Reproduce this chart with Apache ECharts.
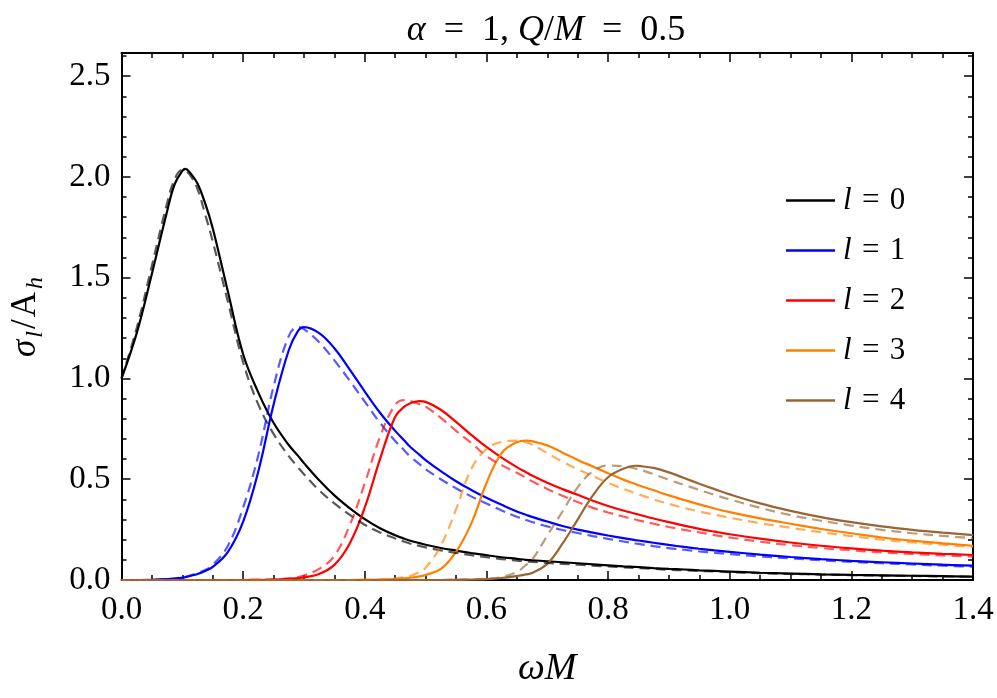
<!DOCTYPE html>
<html>
<head>
<meta charset="utf-8">
<script src="https://cdn.jsdelivr.net/npm/echarts@6/dist/echarts.min.js"></script>
<style>
  html, body { margin: 0; padding: 0; background: #fff; }
  #chart { width: 997px; height: 698px; }
</style>
</head>
<body>
<div id="chart"></div>
<script>
// omega*M sample points (shared by every curve), with extra points at the peaks
const omegaM = [0, 0.025, 0.05, 0.075,
  0.0875, 0.1, 0.105, 0.1125, 0.125, 0.1375, 0.15,
  0.175, 0.2, 0.225, 0.25, 0.275,
  0.29, 0.3, 0.325, 0.35, 0.375, 0.4, 0.425, 0.45,
  0.465, 0.475, 0.49, 0.5,
  0.525, 0.55, 0.575, 0.6, 0.625, 0.65,
  0.665, 0.675, 0.7, 0.725, 0.75, 0.775, 0.8, 0.825,
  0.845, 0.85, 0.875, 0.9, 0.925, 0.95, 0.975, 1.0,
  1.05, 1.1, 1.15, 1.2, 1.25, 1.3, 1.35, 1.4]

// sigma_l / A_h, solid curves
const l0 = [1.00, 1.225, 1.52, 1.83,
  1.965, 2.03, 2.04, 2.022, 1.967, 1.87, 1.745,
  1.43, 1.12, 0.93, 0.78, 0.67,
  0.617, 0.58, 0.495, 0.42, 0.357, 0.302, 0.257, 0.222,
  0.205, 0.195, 0.183, 0.175,
  0.159, 0.146, 0.134, 0.123, 0.113, 0.105,
  0.1, 0.098, 0.093, 0.088, 0.083, 0.078, 0.073, 0.068,
  0.065, 0.064, 0.059, 0.055, 0.052, 0.048, 0.045, 0.042,
  0.036, 0.032, 0.028, 0.025, 0.023, 0.021, 0.019, 0.017]
const l1 = [0, 0, 0.001, 0.004,
  0.007, 0.012, 0.014, 0.02, 0.03, 0.045, 0.065,
  0.14, 0.29, 0.54, 0.87, 1.14,
  1.235, 1.255, 1.225, 1.15, 1.045, 0.935, 0.83, 0.74,
  0.692, 0.66, 0.621, 0.595,
  0.54, 0.49, 0.447, 0.408, 0.373, 0.34,
  0.324, 0.313, 0.29, 0.268, 0.25, 0.235, 0.221, 0.208,
  0.198, 0.196, 0.185, 0.174, 0.164, 0.155, 0.147, 0.14,
  0.126, 0.114, 0.104, 0.095, 0.088, 0.082, 0.076, 0.071]
const l2 = [0, 0, 0, 0,
  0, 0, 0, 0, 0, 0, 0,
  0, 0, 0.001, 0.002, 0.006,
  0.01, 0.013, 0.03, 0.075, 0.18, 0.36, 0.6, 0.81,
  0.86, 0.877, 0.888, 0.884,
  0.845, 0.785, 0.72, 0.66, 0.607, 0.56,
  0.535, 0.518, 0.482, 0.451, 0.423, 0.393, 0.367, 0.345,
  0.329, 0.325, 0.305, 0.287, 0.27, 0.254, 0.24, 0.227,
  0.205, 0.186, 0.17, 0.157, 0.146, 0.137, 0.13, 0.124]
const l3 = [0, 0, 0, 0,
  0, 0, 0, 0, 0, 0, 0,
  0, 0, 0, 0, 0,
  0, 0, 0, 0, 0, 0.001, 0.002, 0.005,
  0.008, 0.011, 0.018, 0.025,
  0.055, 0.14, 0.28, 0.48, 0.63, 0.684,
  0.692, 0.689, 0.668, 0.632, 0.596, 0.563, 0.53, 0.498,
  0.476, 0.47, 0.445, 0.42, 0.397, 0.375, 0.355, 0.337,
  0.306, 0.279, 0.253, 0.232, 0.211, 0.195, 0.182, 0.17]
const l4 = [0, 0, 0, 0,
  0, 0, 0, 0, 0, 0, 0,
  0, 0, 0, 0, 0,
  0, 0, 0, 0, 0, 0, 0, 0,
  0, 0, 0, 0,
  0, 0.001, 0.002, 0.004, 0.01, 0.02,
  0.028, 0.035, 0.08, 0.18, 0.3, 0.42, 0.51, 0.552,
  0.567, 0.566, 0.556, 0.534, 0.506, 0.478, 0.451, 0.425,
  0.38, 0.343, 0.312, 0.287, 0.266, 0.249, 0.235, 0.223]

// dashed companions
const l0Dashed = [1.00, 1.25, 1.56, 1.87,
  1.99, 2.035, 2.03, 2.01, 1.94, 1.815, 1.68,
  1.38, 1.08, 0.87, 0.725, 0.615,
  0.56, 0.525, 0.445, 0.38, 0.324, 0.274, 0.236, 0.206,
  0.19, 0.18, 0.169, 0.162,
  0.147, 0.135, 0.123, 0.113, 0.104, 0.096,
  0.092, 0.09, 0.085, 0.08, 0.076, 0.071, 0.067, 0.063,
  0.06, 0.059, 0.055, 0.051, 0.048, 0.045, 0.042, 0.039,
  0.034, 0.03, 0.027, 0.024, 0.022, 0.02, 0.018, 0.016]
const l1Dashed = [0, 0, 0.001, 0.004,
  0.0075, 0.013, 0.016, 0.022, 0.035, 0.05, 0.075,
  0.17, 0.36, 0.62, 0.96, 1.21,
  1.255, 1.245, 1.18, 1.09, 0.99, 0.885, 0.78, 0.69,
  0.643, 0.612, 0.575, 0.55,
  0.5, 0.455, 0.415, 0.38, 0.345, 0.314,
  0.298, 0.288, 0.266, 0.248, 0.233, 0.218, 0.204, 0.191,
  0.181, 0.179, 0.168, 0.158, 0.15, 0.142, 0.135, 0.129,
  0.117, 0.107, 0.098, 0.09, 0.083, 0.077, 0.071, 0.066]
const l2Dashed = [0, 0, 0, 0,
  0, 0, 0, 0, 0, 0, 0,
  0, 0, 0.001, 0.003, 0.008,
  0.015, 0.022, 0.055, 0.12, 0.27, 0.48, 0.71, 0.87,
  0.893, 0.888, 0.872, 0.86,
  0.805, 0.74, 0.68, 0.615, 0.57, 0.532,
  0.507, 0.49, 0.452, 0.418, 0.387, 0.358, 0.335, 0.315,
  0.3, 0.296, 0.279, 0.263, 0.249, 0.236, 0.223, 0.211,
  0.19, 0.173, 0.159, 0.147, 0.137, 0.129, 0.122, 0.116]
const l3Dashed = [0, 0, 0, 0,
  0, 0, 0, 0, 0, 0, 0,
  0, 0, 0, 0, 0,
  0, 0, 0, 0, 0, 0.001, 0.003, 0.008,
  0.014, 0.02, 0.04, 0.06,
  0.17, 0.35, 0.55, 0.65, 0.685, 0.692,
  0.683, 0.672, 0.63, 0.587, 0.55, 0.515, 0.482, 0.452,
  0.43, 0.425, 0.4, 0.378, 0.358, 0.34, 0.324, 0.309,
  0.282, 0.259, 0.237, 0.218, 0.2, 0.187, 0.175, 0.164]
const l4Dashed = [0, 0, 0, 0,
  0, 0, 0, 0, 0, 0, 0,
  0, 0, 0, 0, 0,
  0, 0, 0, 0, 0, 0, 0, 0,
  0, 0, 0, 0,
  0, 0.001, 0.003, 0.007, 0.015, 0.04,
  0.075, 0.1, 0.22, 0.34, 0.46, 0.54, 0.568, 0.565,
  0.553, 0.55, 0.525, 0.497, 0.472, 0.447, 0.422, 0.4,
  0.358, 0.322, 0.294, 0.27, 0.249, 0.232, 0.219, 0.207]

const legendNames = ['l = 0', 'l = 1', 'l = 2', 'l = 3', 'l = 4']
const colors = ['#000000', '#0000ff', '#ff0000', '#ff8000', '#996633']
const solidCurves = [l0, l1, l2, l3, l4]
const dashedCurves = [l0Dashed, l1Dashed, l2Dashed, l3Dashed, l4Dashed]

const serif = "'Liberation Serif', 'DejaVu Serif', serif"
const wide = '\u2002'  // title spacing round "="
const mid = '\u2004'   // legend spacing round "="

const toPairs = (ys) => {
  if (ys.length !== omegaM.length) throw new Error('length mismatch ' + ys.length)
  return omegaM.map((x, i) => [x, ys[i]])
}

const series = []
solidCurves.forEach((ys, i) => {
  series.push({
    name: legendNames[i],
    type: 'line',
    data: toPairs(ys),
    smooth: 0.4,
    showSymbol: false,
    color: colors[i],
    lineStyle: { color: colors[i], width: 2.2 },
    z: 3,
  })
})
dashedCurves.forEach((ys, i) => {
  series.push({
    name: legendNames[i] + ' dashed',
    type: 'line',
    data: toPairs(ys),
    smooth: 0.4,
    showSymbol: false,
    color: colors[i],
    lineStyle: { color: colors[i], width: 2.2, type: [10, 6], opacity: 0.65 },
    z: 4,
  })
})

const tickStyle = { color: '#000', width: 1.5 }
const frameLine = { onZero: false, lineStyle: { color: '#000', width: 2 } }

function makeAxis(extra) {
  return Object.assign({
    type: 'value',
    axisLine: frameLine,
    axisTick: { inside: true, length: 9, lineStyle: tickStyle },
    splitLine: { show: false },
  }, extra)
}

const chart = echarts.init(document.getElementById('chart'))
chart.setOption({
  animation: false,
  backgroundColor: '#fff',
  title: {
    text: '{i|α}' + wide + '=' + wide + '1, {i|Q}/{i|M}' + wide + '=' + wide + '0.5',
    left: 541,
    textAlign: 'center',
    top: 8,
    textStyle: {
      fontFamily: serif, fontSize: 36, fontWeight: 'normal', color: '#000',
      rich: { i: { fontFamily: serif, fontSize: 36, fontStyle: 'italic', color: '#000' } },
    },
  },
  grid: { left: 121, right: 24, top: 53, bottom: 118, containLabel: false },
  legend: {
    data: legendNames,
    orient: 'vertical',
    left: 781,
    top: 180,
    icon: 'rect',
    itemWidth: 49,
    itemHeight: 2.5,
    itemGap: 19,
    formatter: (name) => '{i|l}{n|' + mid + '=' + mid + name.slice(4) + '}',
    textStyle: {
      fontFamily: serif, fontSize: 31, color: '#000', lineHeight: 30,
      rich: {
        i: { fontFamily: serif, fontSize: 31, fontStyle: 'italic', color: '#000', padding: [0, 0, 0, 3] },
        n: { fontFamily: serif, fontSize: 31, color: '#000' },
      },
    },
  },
  xAxis: [
    makeAxis({
      min: 0, max: 1.4, interval: 0.2, position: 'bottom',
      minorTick: { show: true, splitNumber: 4, length: 5, lineStyle: tickStyle },
      axisLabel: { fontFamily: serif, fontSize: 33, color: '#000', margin: 14, formatter: (v) => v.toFixed(1) },
      name: '{i|ωM}',
      nameLocation: 'middle',
      nameGap: 70,
      nameTextStyle: { rich: { i: { fontFamily: serif, fontSize: 38, fontStyle: 'italic', color: '#000' } } },
    }),
    makeAxis({
      min: 0, max: 1.4, interval: 0.2, position: 'top',
      minorTick: { show: true, splitNumber: 4, length: 5, lineStyle: tickStyle },
      axisLabel: { show: false },
    }),
  ],
  yAxis: [
    makeAxis({
      min: 0, max: 2.615, interval: 0.5, position: 'left',
      minorTick: { show: true, splitNumber: 5, length: 5, lineStyle: tickStyle },
      axisLabel: { fontFamily: serif, fontSize: 33, color: '#000', margin: 11, showMaxLabel: false, formatter: (v) => v.toFixed(1) },
      name: '{i|σ}{s|l}{n|/}{n|A}{s|h}',
      nameLocation: 'middle',
      nameRotate: 90,
      nameGap: 74,
      nameTextStyle: {
        rich: {
          i: { fontFamily: serif, fontSize: 35, fontStyle: 'italic', color: '#000', lineHeight: 44 },
          n: { fontFamily: serif, fontSize: 35, color: '#000', lineHeight: 44, padding: [0, 1, 0, 1] },
          s: { fontFamily: serif, fontSize: 24, fontStyle: 'italic', color: '#000', lineHeight: 44, verticalAlign: 'bottom', padding: [0, 1, 0, 2] },
        },
      },
    }),
    makeAxis({
      min: 0, max: 2.615, interval: 0.5, position: 'right',
      minorTick: { show: true, splitNumber: 5, length: 5, lineStyle: tickStyle },
      axisLabel: { show: false },
    }),
  ],
  series: series,
})
</script>
</body>
</html>
